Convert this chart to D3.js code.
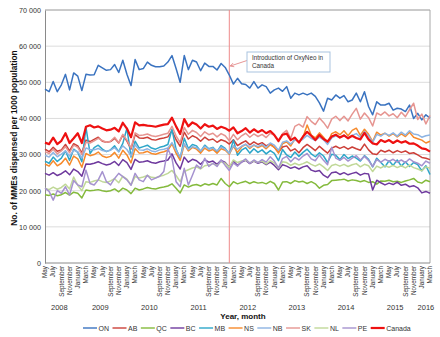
<!DOCTYPE html>
<html><head><meta charset="utf-8">
<script src="https://cdn.jsdelivr.net/npm/d3@7"></script>
<style>body{margin:0;background:#fff}svg{display:block;font-family:"Liberation Sans",Arial,sans-serif}</style>
</head><body><svg id="c" width="440" height="337"></svg>
<script>
// ---------- data ----------
const monthNames = ["January","February","March","April","May","June","July","August","September","October","November","December"];
const startYear = 2008, startMonth = 4, nMonths = 95; // May 2008 .. March 2016
const seriesNames = ["ON","AB","QC","BC","MB","NS","NB","SK","NL","PE","Canada"];
const yTicks = [0,10000,20000,30000,40000,50000,60000,70000];

const ON = [48100,47400,50200,47400,49300,52200,47900,52600,51700,47700,52200,52000,
52100,54700,54000,53300,53500,54900,52700,56100,52200,49100,56300,53500,
53800,55600,54700,54300,54300,54500,55600,57400,53800,50000,57400,53500,
56100,55600,53200,55300,54400,54400,53400,55200,54100,52000,49500,51100,
49600,49400,48400,50200,48400,49300,48800,47000,47900,48400,47500,48800,
45600,47000,46500,47000,46500,47000,46100,44300,42000,45600,45100,46500,
45600,46300,44600,45100,47000,44600,47400,43300,41000,44600,43700,43700,
44200,42300,42800,42600,41900,43700,40000,41400,39600,41000,40100];
const AB = [31500,30800,32000,30900,31300,32800,31000,33000,32400,30500,34000,33600,
34200,34800,33700,33400,33600,34500,33200,35400,33700,31500,35500,34600,
34500,34800,34200,34000,34400,34600,34900,36600,34100,32300,36200,34300,
35200,34700,33700,34800,34000,34300,33400,34100,33700,32900,34100,32500,
33200,33800,32700,33500,32800,33300,32400,33000,32000,30600,32100,32400,
31000,31600,30500,31900,32800,32000,31100,32300,31300,30400,31800,32300,
31700,32200,31500,32100,31600,31200,32900,31300,30200,30000,31200,30700,
31200,30500,31100,30600,31000,30300,30500,29900,29200,29000,28600];
const QC = [18900,18700,19100,18600,18900,19500,18800,19600,19300,18000,20200,20000,
20100,20300,20000,19800,20000,20500,19700,20700,20200,19200,20700,20200,
20500,20900,20600,20500,20800,21000,21300,21900,20700,19400,21600,21000,
21500,21700,21300,21900,21600,22000,21600,23400,22000,21100,22500,21900,
22300,22600,22000,22500,22100,22300,21900,22600,22000,20200,22400,22500,
22000,22800,22400,22600,22000,22500,21900,20700,21500,21700,22800,22900,
23000,23200,22700,23000,22800,22500,22800,22300,22500,21800,22700,22600,
22900,22500,22600,22300,22700,23000,23400,22400,22100,22900,22500];
const BC = [24800,24300,25000,24200,24700,25500,24400,26000,25300,24000,27400,27300,
27600,28000,27500,27100,27400,28100,27000,28600,27800,25900,28700,27900,
28000,28300,27800,27600,28000,28200,28500,30200,27700,26000,29300,27900,
28700,28300,27300,28600,27900,28200,27300,28400,27800,26500,28200,27000,
27900,28400,27500,28200,27600,28000,27200,27900,27000,25800,27200,26800,
26200,26600,26000,26600,26900,25700,25300,25600,24300,23600,25000,25200,
24500,25000,24400,24800,25100,24300,24800,24600,20200,22900,22200,21600,
22100,21700,22400,21500,21800,21100,21400,20800,19400,19800,19300];
const MB = [28200,27600,29300,28100,29000,31000,28400,31500,30600,28000,37500,30300,
31900,32600,31500,30800,31300,32400,30800,33100,37300,29300,33700,31800,
32200,32600,31800,31500,32000,32300,32800,37000,31500,28900,34500,31700,
32800,32400,30900,32600,31600,32000,30800,32500,31700,30200,34000,29800,
31200,31900,30400,31600,30600,31300,30200,31100,30300,28300,31400,29900,
29200,30700,29500,30600,31500,30200,29400,30500,29600,27800,30100,29800,
28600,30000,28900,29600,29000,28200,29700,28700,26600,29000,27800,26600,
28300,27000,28500,26800,28000,26700,27800,27200,25500,26900,24500];
const NS = [27400,26800,28300,26900,27600,29000,27100,29600,28800,26500,30300,29700,
30000,30700,29600,29200,29500,30600,29000,31200,29900,27700,31700,30400,
30500,30900,30300,30100,30500,30800,31200,33000,30400,28400,32800,31000,
32000,31500,30400,31800,31000,31400,30400,31600,31200,30100,32300,30600,
32100,32800,31700,32600,31900,32500,31600,32700,32000,30400,33000,33500,
32400,34300,33500,34800,38200,35400,34600,36000,34800,33200,35800,36300,
35500,36600,35200,36700,37300,35300,37000,35600,33600,36200,35400,35900,
35100,35800,34900,35700,35000,36200,34800,34400,34000,33200,33700];
const NB = [29800,29300,30600,29400,30100,31000,29600,31200,30800,29000,31800,31400,
31300,31700,31100,30900,31200,31900,30800,32400,31400,29600,32700,31300,
31200,31600,31000,30800,31300,31500,31800,33300,31200,29300,33000,31400,
32200,31900,31000,32300,31500,31800,31000,32100,31500,30300,32400,31500,
32300,32900,32000,32700,32200,32800,32000,33200,32600,31200,33400,33800,
32900,34100,33600,34300,35300,34500,33900,34800,34100,32800,34600,35200,
34700,35400,34600,35300,35800,34800,36300,35200,33400,35600,35100,35900,
35300,36000,35100,36200,35400,36600,35700,35500,34800,35200,35400];
const SK = [30800,30300,31500,30200,31000,32200,30500,32600,32000,30000,33400,33200,
33800,34500,33900,33400,33700,34800,33300,35600,34000,31800,36000,35300,
35400,35700,35200,35000,35300,35600,35900,37800,35200,33300,37500,35600,
36700,36100,35000,36300,35500,35900,34900,35800,35200,33800,35600,34100,
35200,35900,34800,35700,35000,35600,34700,35900,35300,33500,35800,36700,
34500,37800,38400,37600,40500,39200,38300,40100,38900,37300,39800,40600,
39400,40600,39300,41200,42800,39800,41500,40200,37900,41500,40900,41800,
40700,41300,40200,41700,40500,42400,44200,39700,41200,38500,40800];
const NL = [20700,20300,21000,20400,20900,21800,20500,23800,21500,20000,22500,22300,
22700,23000,22500,22300,22700,23300,22200,24000,23200,21600,23900,23500,
23800,24200,23700,23600,24000,24300,24800,25600,24200,22500,25300,25800,
26300,26600,26000,26900,27100,27500,27000,28000,27600,26500,28500,27800,
28200,28500,27700,28300,27800,28200,27400,28300,27700,26200,28000,27800,
27000,27600,27100,27500,28000,27300,26800,27400,26600,25600,27000,27300,
26800,27300,26700,27200,27500,26600,27300,26900,25300,26800,26300,26900,
26500,27000,26400,26900,26300,27100,26400,26000,25500,26600,26200];
const PE = [20700,19800,17400,20000,19300,21100,18800,22800,21600,21100,25700,22000,
21600,23000,25300,22500,21600,23400,24800,23900,23000,21500,24800,23000,
22500,24300,23000,23500,24000,25300,31700,29000,22500,21100,26200,21600,
24300,27100,26200,29000,26700,27600,26700,28500,27000,25600,27700,26800,
28000,28800,27600,28500,27800,28600,27900,29400,28200,26300,28900,29500,
28000,29200,28500,29600,30300,28800,28300,29900,28400,27200,32000,29000,
28400,29200,28200,29000,29700,28500,29500,28400,26700,28600,27900,28700,
28100,28700,27900,28500,27800,28800,28000,27600,26900,28200,27600];
const Canada = [33300,32900,34700,32900,33800,35900,33200,34500,35900,33200,37700,38100,
37500,37800,37200,36700,36900,37400,36400,38800,37200,34800,38900,38100,
38200,38000,37900,37700,38000,38300,38400,40200,37800,35700,39800,37800,
38900,38300,37200,38400,37700,38000,37100,37700,37300,36600,37500,35900,
36500,37300,36100,37000,36200,36800,35900,36500,35400,33800,35500,35800,
34000,34700,33300,35000,36300,35200,34000,35400,34300,33600,35000,35500,
34700,35300,34500,35200,34600,34200,36000,34200,33100,32800,34000,33500,
34000,33200,33900,33300,33700,33000,33100,32500,31700,31500,30800];

const eventMonth = "2012-2";
const eventLabel = ["Introduction of OxyNeo in", "Canada"];
const eventTipValue = 54500;

// ---------- styles ----------
const colors = {ON:"#3a73c0",AB:"#cc3f38",QC:"#84ba3c",BC:"#6f3a9e",MB:"#2da6c9",NS:"#f68a2c",
  NB:"#8db4e3",SK:"#e69591",NL:"#c0d898",PE:"#a592cf",Canada:"#ee1111"};
const widths = {Canada:2.2};

// ---------- build ----------
const values = {ON,AB,QC,BC,MB,NS,NB,SK,NL,PE,Canada};
const cats = d3.range(nMonths).map(i => {
  const t = startMonth + i; const y = startYear + Math.floor(t/12); const m = t % 12;
  return {key: y + "-" + (m+1), year: y, month: m};
});
const L = 45, R = 430, T = 10, B = 263;
const svg = d3.select("#c");
const x = d3.scalePoint().domain(cats.map(c => c.key)).range([L, R]);
const y = d3.scaleLinear().domain([0, 70000]).range([B, T]);
const fmt = v => d3.format(",")(v).replace(/,/g, " ");

// grid
svg.append("g").selectAll("line").data(yTicks.filter(v => v > 0)).join("line")
  .attr("x1", L).attr("x2", R).attr("y1", d => y(d)).attr("y2", d => y(d))
  .attr("stroke", "#dcdcdc").attr("stroke-width", 1);
// frame
svg.append("line").attr("x1", L).attr("x2", R).attr("y1", T).attr("y2", T).attr("stroke", "#a8a8a8");
svg.append("line").attr("x1", R).attr("x2", R).attr("y1", T).attr("y2", B).attr("stroke", "#a8a8a8");

// y axis
const ya = svg.append("g").attr("transform", `translate(${L},0)`)
  .call(d3.axisLeft(y).tickValues(yTicks).tickSize(0).tickPadding(4).tickFormat(fmt));
ya.select(".domain").attr("stroke", "#8a8a8a");
ya.selectAll("text").attr("font-size", 7.2).attr("fill", "#333").attr("font-family", "Liberation Sans, Arial, sans-serif");

// x axis line
svg.append("line").attr("x1", L).attr("x2", R).attr("y1", B).attr("y2", B).attr("stroke", "#8a8a8a");

// month labels
svg.append("g").selectAll("text").data(cats.filter((c, i) => i % 2 === 0)).join("text")
  .attr("transform", d => `translate(${x(d.key)},${B + 3}) rotate(-90)`)
  .attr("text-anchor", "end").attr("dy", "0.35em")
  .attr("font-size", 6.3).attr("fill", "#333").text(d => monthNames[d.month]);

// year labels
const years = d3.groups(cats, d => d.year);
svg.append("g").selectAll("text").data(years).join("text")
  .attr("x", d => (x(d[1][0].key) + x(d[1][d[1].length - 1].key)) / 2)
  .attr("y", 309.5).attr("text-anchor", "middle").attr("font-size", 7.5).attr("fill", "#333")
  .text(d => d[0]);

// axis titles
svg.append("text").attr("transform", "translate(16.5,138) rotate(-90)").attr("text-anchor", "middle")
  .attr("font-size", 8.4).attr("font-weight", "bold").attr("fill", "#111")
  .text("No. of MMEs dispensed per 1000 population");
svg.append("text").attr("x", 243).attr("y", 319).attr("text-anchor", "middle")
  .attr("font-size", 8).attr("font-weight", "bold").attr("fill", "#111").text("Year, month");

// event line
const ex = x(eventMonth);
svg.append("line").attr("x1", ex).attr("x2", ex).attr("y1", T).attr("y2", B)
  .attr("stroke", "#ee8a8a").attr("stroke-width", 1);

// series
const line = d3.line().x((d, i) => x(cats[i].key)).y(d => y(d));
svg.append("g").selectAll("path").data(seriesNames).join("path")
  .attr("d", n => line(values[n])).attr("fill", "none")
  .attr("stroke", n => colors[n]).attr("stroke-width", n => widths[n] || 1.5)
  .attr("stroke-linejoin", "round");

// annotation
const bx = 247, by = 52, bw = 83, bh = 20;
const tipY = y(eventTipValue);
svg.append("line").attr("x1", bx).attr("y1", by + 8.5).attr("x2", ex + 1).attr("y2", tipY)
  .attr("stroke", "#e07b7b").attr("stroke-width", 0.8);
const ang = Math.atan2(by + 8.5 - tipY, bx - ex - 1);
const ah = 4;
svg.append("path").attr("d", `M${ex + 1 + ah*Math.cos(ang - 0.5)},${tipY + ah*Math.sin(ang - 0.5)} L${ex + 1},${tipY} L${ex + 1 + ah*Math.cos(ang + 0.5)},${tipY + ah*Math.sin(ang + 0.5)}`)
  .attr("fill", "none").attr("stroke", "#e07b7b").attr("stroke-width", 0.8);
svg.append("rect").attr("x", bx).attr("y", by).attr("width", bw).attr("height", bh)
  .attr("fill", "#fff").attr("stroke", "#a9c3df").attr("stroke-width", 1);
svg.append("g").selectAll("text").data(eventLabel).join("text")
  .attr("x", bx + 5).attr("y", (d, i) => by + 7.5 + i * 8).attr("font-size", 6.3).attr("fill", "#333").text(d => d);

// legend
let lx = 83; const ly = 328;
const lg = svg.append("g");
seriesNames.forEach(n => {
  lg.append("line").attr("x1", lx).attr("x2", lx + 14).attr("y1", ly).attr("y2", ly)
    .attr("stroke", colors[n]).attr("stroke-width", widths[n] || 1.4);
  const t = lg.append("text").attr("x", lx + 15.5).attr("y", ly + 2.5).attr("font-size", 7).attr("fill", "#333").text(n);
  lx += 15.5 + t.node().getComputedTextLength() + 3.5;
});
</script></body></html>
